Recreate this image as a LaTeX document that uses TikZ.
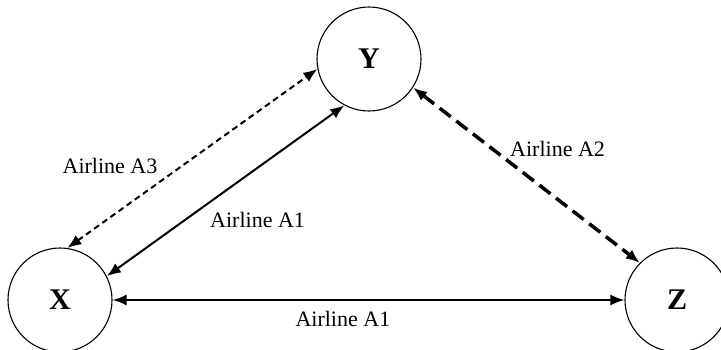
\documentclass[tikz,border=0pt]{standalone}
\usepackage{fontspec}
\setmainfont{Liberation Serif}
\usetikzlibrary{arrows.meta, positioning}
\tikzstyle{city} = [draw, circle, minimum size=104pt, inner sep=0pt, line width=1.1pt, font=\fontsize{30}{34}\selectfont\bfseries]
\tikzstyle{route} = [line width=2pt, {Latex[length=14pt,width=11pt]}-{Latex[length=14pt,width=11pt]}]
\tikzstyle{lbl} = [font=\fontsize{22}{26}\selectfont, inner sep=2pt]

\begin{document}
\begin{tikzpicture}[x=1pt, y=-1pt]
    \useasboundingbox (0,0) rectangle (721,349);
    % Cities
    \node (y) [city] at (369,59) {Y};
    \node (x) [city] at (60,300) {X};
    \node (z) [city] at (677,300) {Z};

    % Routes
    \draw [route, dash pattern=on 6pt off 4pt] (x.82) -- node[lbl, pos=0.46, left=22pt] {Airline A3} (y.191);
    \draw [route] (x.27) -- node[lbl, pos=0.33, right=22pt] {Airline A1} (y.242);
    \draw [route, line width=3.5pt, dash pattern=on 14pt off 7pt] (y.-33) -- node[lbl, pos=0.35, right=14pt] {Airline A2} (z.135);
    \draw [route] (x.east) -- node[lbl, pos=0.45, below=8pt] {Airline A1} (z.west);
\end{tikzpicture}
\end{document}
